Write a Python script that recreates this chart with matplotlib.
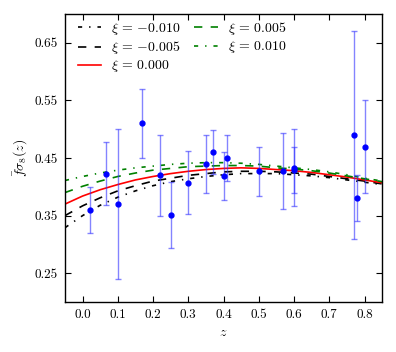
import numpy as np
import matplotlib
matplotlib.use("Agg")
import matplotlib.pyplot as plt

plt.rcParams['font.family'] = 'serif'
plt.rcParams['font.serif'] = ['cmr10']
plt.rcParams['mathtext.fontset'] = 'cm'
plt.rcParams['axes.formatter.use_mathtext'] = True
plt.rcParams['lines.scale_dashes'] = False
plt.rcParams['lines.dashed_pattern'] = [6, 6]
plt.rcParams['lines.dashdot_pattern'] = [3, 5, 1, 5]

# Model curves
z_model = [-0.05, 0.0, 0.05, 0.1, 0.15, 0.2, 0.25, 0.3, 0.35, 0.4, 0.45,
           0.5, 0.55, 0.6, 0.65, 0.7, 0.75, 0.8, 0.85]
f_m010 = [0.329, 0.350, 0.368, 0.382, 0.393, 0.402, 0.409, 0.414, 0.418, 0.421,
          0.423, 0.423, 0.423, 0.421, 0.419, 0.416, 0.412, 0.408, 0.404]
f_m005 = [0.350, 0.367, 0.381, 0.393, 0.402, 0.410, 0.415, 0.420, 0.423, 0.426,
          0.427, 0.427, 0.426, 0.424, 0.422, 0.418, 0.414, 0.410, 0.405]
f_0 = [0.370, 0.384, 0.395, 0.404, 0.412, 0.418, 0.423, 0.427, 0.430, 0.432,
       0.433, 0.432, 0.430, 0.428, 0.425, 0.421, 0.417, 0.412, 0.407]
f_p005 = [0.390, 0.401, 0.410, 0.418, 0.424, 0.429, 0.432, 0.435, 0.436, 0.437,
          0.437, 0.436, 0.433, 0.431, 0.428, 0.424, 0.419, 0.414, 0.409]
f_p010 = [0.411, 0.418, 0.424, 0.429, 0.433, 0.436, 0.439, 0.441, 0.442, 0.442,
          0.441, 0.439, 0.436, 0.433, 0.430, 0.426, 0.421, 0.415, 0.410]

# Observational data
z_obs = [0.02, 0.067, 0.10, 0.17, 0.22, 0.25, 0.30, 0.35, 0.37, 0.40, 0.41,
         0.50, 0.57, 0.60, 0.60, 0.77, 0.78, 0.80]
fs8_obs = [0.360, 0.423, 0.37, 0.51, 0.42, 0.351, 0.407, 0.44, 0.460, 0.419,
           0.45, 0.427, 0.427, 0.43, 0.433, 0.49, 0.38, 0.47]
err_obs = [0.040, 0.055, 0.13, 0.06, 0.07, 0.058, 0.055, 0.05, 0.038, 0.041,
           0.04, 0.043, 0.066, 0.04, 0.067, 0.18, 0.04, 0.08]

labels = [r'$\xi\,=\,{-}0.010$', r'$\xi\,=\,{-}0.005$', r'$\xi\,=\,0.000$',
          r'$\xi\,=\,0.005$', r'$\xi\,=\,0.010$']
xticks = [0.0, 0.1, 0.2, 0.3, 0.4, 0.5, 0.6, 0.7, 0.8]
yticks = [0.25, 0.35, 0.45, 0.55, 0.65]

fig = plt.figure(figsize=(3.96, 3.52), dpi=100)
ax = fig.add_axes([0.164, 0.142, 0.801, 0.818])

lw = 1.2
ax.plot(z_model, f_m010, color='k', ls='-.', lw=lw, label=labels[0])
ax.plot(z_model, f_m005, color='k', ls='--', lw=lw, label=labels[1])
ax.plot(z_model, f_0, color='r', ls='-', lw=lw, label=labels[2])
ax.plot(z_model, f_p005, color='g', ls='--', lw=lw, label=labels[3])
ax.plot(z_model, f_p010, color='g', ls='-.', lw=lw, label=labels[4])

ax.errorbar(z_obs, fs8_obs, yerr=err_obs, fmt='o', color='b', ms=3.5,
            ecolor=(0.2, 0.2, 1.0, 0.6), elinewidth=1.0, capsize=2.5,
            capthick=1.0, zorder=5)

ax.set_xlim(-0.05, 0.85)
ax.set_ylim(0.20, 0.70)
ax.set_xticks(xticks)
ax.set_yticks(yticks)
ax.set_xticklabels(['%.1f' % t for t in xticks])
ax.set_yticklabels(['%.2f' % t for t in yticks])
ax.tick_params(direction='in', top=True, right=True, labelsize=9.5,
               length=4, width=0.8, pad=5)
for s in ax.spines.values():
    s.set_linewidth(1.0)

ax.set_xlabel(r'$z$', fontsize=10)
ax.set_ylabel(r'$\bar{f}\sigma_8(z)$', fontsize=10)

ax.legend(loc='upper left', bbox_to_anchor=(0.02, 1.0), ncol=2,
          frameon=False, fontsize=10,
          handlelength=1.7, columnspacing=1.0, handletextpad=0.7,
          labelspacing=0.15, borderaxespad=0.05)

fig.savefig('out.png', dpi=100)
